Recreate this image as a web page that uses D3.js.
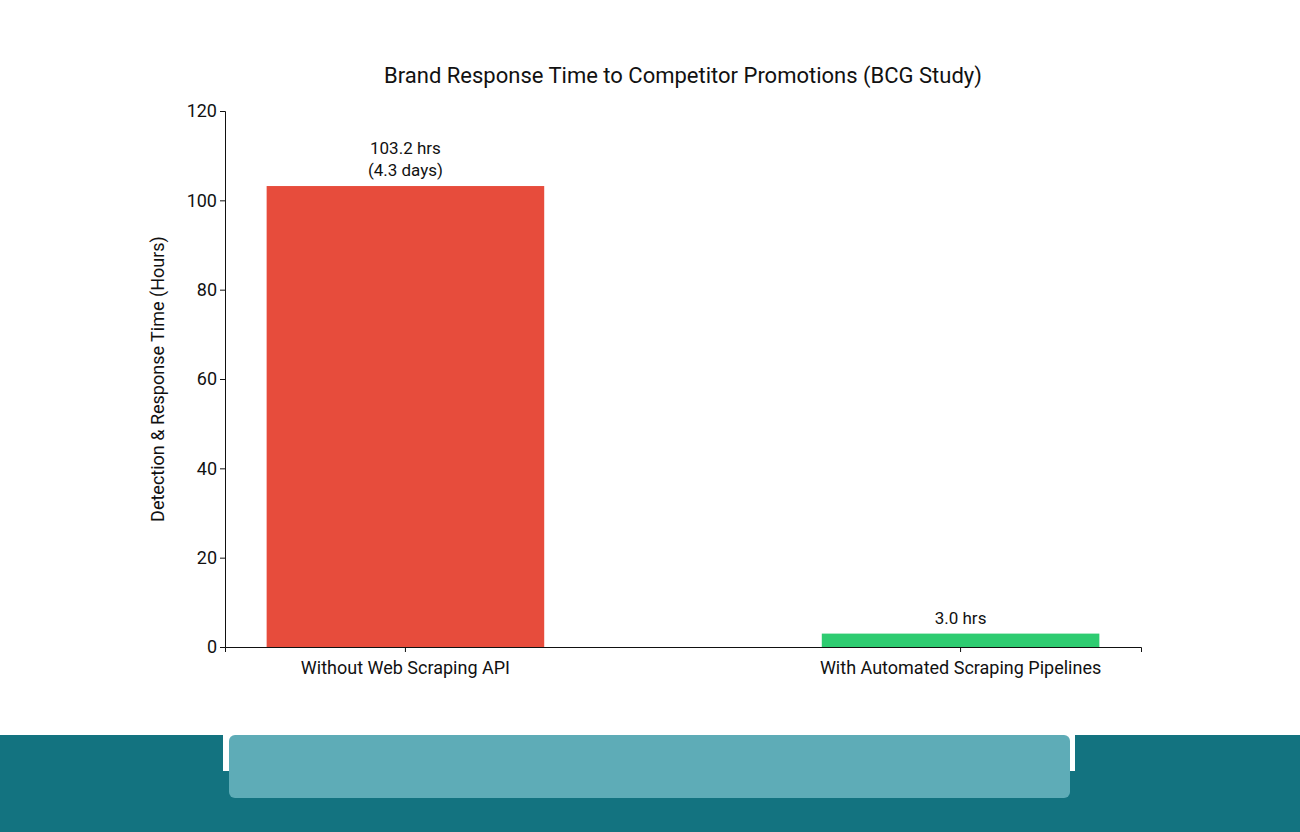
<!DOCTYPE html>
<html>
<head>
<meta charset="utf-8">
<script src="https://cdn.jsdelivr.net/npm/d3@7"></script>
<style>
  body { margin: 0; background: #fff; }
  svg { display: block; font-family: Roboto, "Open Sans", sans-serif; }
</style>
</head>
<body>
<div id="chart"></div>
<script>
const categories = ["Without Web Scraping API", "With Automated Scraping Pipelines"];
const hours = [103.2, 3.0];
const barLabels = [["103.2 hrs", "(4.3 days)"], ["3.0 hrs"]];
const barColors = ["#e74c3c", "#2ecc71"];
const yTicks = [0, 20, 40, 60, 80, 100, 120];

const W = 1300, H = 832;
const svg = d3.select("#chart").append("svg").attr("width", W).attr("height", H);

// footer decoration
svg.append("rect").attr("x", 0).attr("y", 735).attr("width", W).attr("height", 97).attr("fill", "#137380");
svg.append("rect").attr("x", 223).attr("y", 735).attr("width", 852).attr("height", 36).attr("fill", "#fff");
svg.append("rect").attr("x", 229).attr("y", 735).attr("width", 841).attr("height", 63).attr("rx", 6).attr("fill", "#5eacb7");

const x = d3.scaleBand().domain(categories).range([225, 1141]).paddingInner(0.5).paddingOuter(0.075);
const y = d3.scaleLinear().domain([0, 120]).range([647, 111]);

svg.selectAll(".bar")
  .data(hours)
  .enter().append("rect")
  .attr("class", "bar")
  .attr("x", (d, i) => x(categories[i]))
  .attr("width", x.bandwidth())
  .attr("y", d => y(d))
  .attr("height", d => y(0) - y(d))
  .attr("fill", (d, i) => barColors[i]);

// value labels above bars
hours.forEach((d, i) => {
  const lines = barLabels[i];
  const t = svg.append("text")
    .attr("x", x(categories[i]) + x.bandwidth() / 2)
    .attr("text-anchor", "middle")
    .style("font-size", "17px")
    .attr("fill", "#111");
  lines.forEach((l, j) => {
    t.append("tspan")
      .attr("x", x(categories[i]) + x.bandwidth() / 2)
      .attr("y", y(d) - 10 - (lines.length - 1 - j) * 22)
      .text(l);
  });
});

const xAxis = svg.append("g")
  .attr("transform", "translate(0," + y(0) + ")")
  .call(d3.axisBottom(x).tickSizeOuter(0).tickSize(5));
const yAxis = svg.append("g")
  .attr("transform", "translate(225,0)")
  .call(d3.axisLeft(y).tickValues(yTicks).tickSizeOuter(0).tickSize(5));

[xAxis, yAxis].forEach(a => {
  a.selectAll("text").style("font-size", "18px").style("fill", "#111").style("font-family", "Roboto, 'Open Sans', sans-serif");
  a.selectAll("line").style("stroke", "#111");
  a.select(".domain").style("stroke", "#111");
});
xAxis.selectAll("text").attr("dy", "1.05em");

svg.append("text")
  .attr("x", 683).attr("y", 83)
  .attr("text-anchor", "middle")
  .style("font-size", "22px")
  .attr("fill", "#111")
  .text("Brand Response Time to Competitor Promotions (BCG Study)");

svg.append("text")
  .attr("transform", "translate(164," + (y(60)) + ") rotate(-90)")
  .attr("text-anchor", "middle")
  .style("font-size", "18px")
  .attr("fill", "#111")
  .text("Detection & Response Time (Hours)");
</script>
</body>
</html>
